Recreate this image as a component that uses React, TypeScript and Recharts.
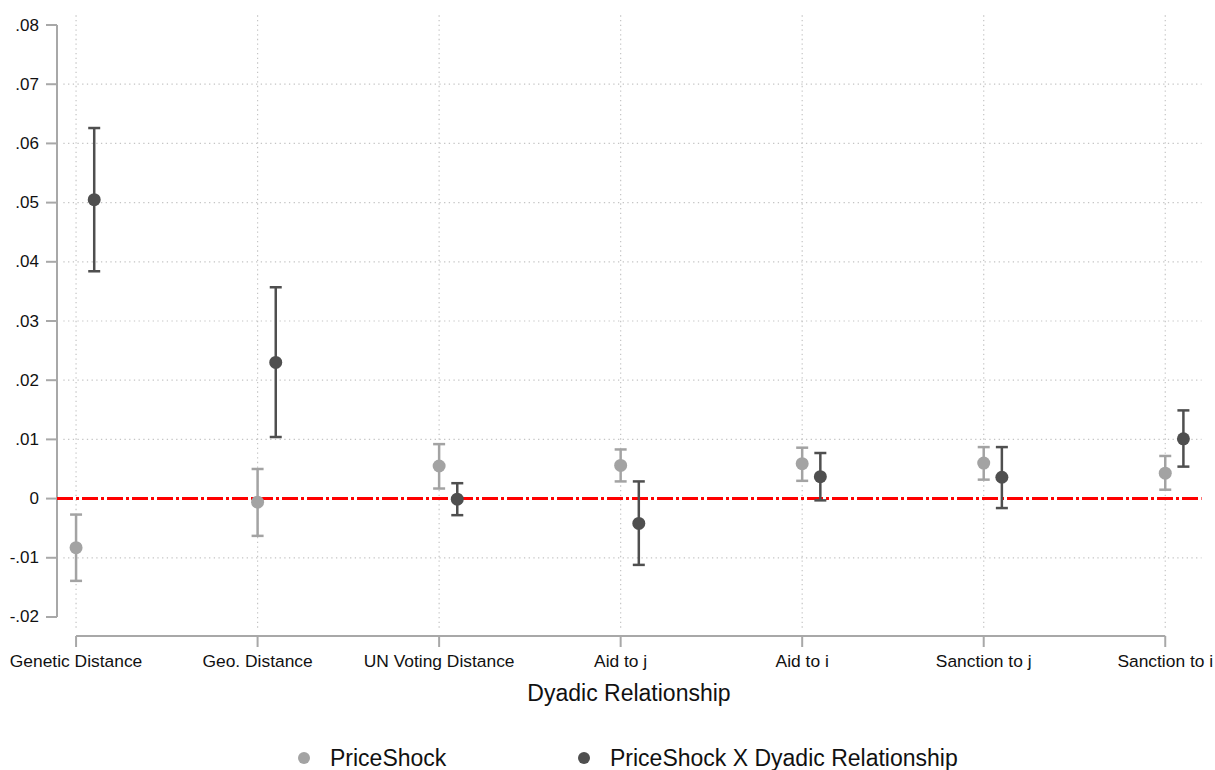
import React from "react";
import {
  ErrorBar,
  ReferenceLine,
  Scatter,
  ScatterChart,
  XAxis,
  YAxis,
} from "recharts";

const categories = [
  "Genetic Distance",
  "Geo. Distance",
  "UN Voting Distance",
  "Aid to j",
  "Aid to i",
  "Sanction to j",
  "Sanction to i",
];

// PriceShock
const shockCoef = [-0.0083, -0.0006, 0.0055, 0.0056, 0.0059, 0.006, 0.0043];
const shockLow = [-0.0139, -0.0063, 0.0017, 0.0029, 0.003, 0.0032, 0.0015];
const shockHigh = [-0.0027, 0.005, 0.0092, 0.0083, 0.0086, 0.0087, 0.0072];

// PriceShock X Dyadic Relationship
const interCoef = [0.0505, 0.023, -0.0001, -0.0042, 0.0037, 0.0036, 0.0101];
const interLow = [0.0384, 0.0104, -0.0028, -0.0112, -0.0003, -0.0016, 0.0054];
const interHigh = [0.0626, 0.0357, 0.0026, 0.0029, 0.0077, 0.0087, 0.0149];

const yTicks = [-0.02, -0.01, 0, 0.01, 0.02, 0.03, 0.04, 0.05, 0.06, 0.07, 0.08];
const gridTicks = [-0.01, 0.01, 0.02, 0.03, 0.04, 0.05, 0.06, 0.07];

const LIGHT = "#a3a3a3";
const DARK = "#4f4f4f";
const AXIS = "#a8a8a8";
const GRID = "#c4c4c4";
const FONT = "'Liberation Sans', Arial, Helvetica, sans-serif";

const DODGE = 0.1;
const X_DOMAIN: [number, number] = [-0.105, 6.23];
const Y_DOMAIN: [number, number] = [-0.0222, 0.0822];

const build = (coef: number[], low: number[], high: number[], shift: number) =>
  coef.map((c, i) => ({
    x: i + shift,
    y: c,
    err: [c - low[i], high[i] - c],
  }));

const shockData = build(shockCoef, shockLow, shockHigh, 0);
const interData = build(interCoef, interLow, interHigh, DODGE);

const fmtY = (v: number) => {
  if (v === 0) return "0";
  const s = v.toFixed(2);
  return s.replace("0.", ".");
};

const YTick = (props: any) => {
  const { x, y, payload } = props;
  return (
    <g>
      <line x1={x - 11} x2={x} y1={y} y2={y} stroke={AXIS} strokeWidth={2} />
      <text
        x={x - 18}
        y={y}
        textAnchor="end"
        dominantBaseline="central"
        fontSize={17}
        fontFamily={FONT}
        fill="#111"
      >
        {fmtY(payload.value)}
      </text>
    </g>
  );
};

const XTick = (props: any) => {
  const { x, y, payload } = props;
  return (
    <g>
      <line x1={x} x2={x} y1={y + 6} y2={y + 17} stroke={AXIS} strokeWidth={2} />
      <text
        x={x}
        y={y + 37}
        textAnchor="middle"
        fontSize={17.4}
        fontFamily={FONT}
        fill="#111"
      >
        {categories[payload.value]}
      </text>
    </g>
  );
};

const dot = (color: string, r: number) => (p: any) =>
  <circle cx={p.cx} cy={p.cy} r={r} fill={color} />;

export default function App() {
  return (
    <div
      style={{
        position: "absolute",
        left: 0,
        top: 0,
        width: 1215,
        height: 770,
        background: "#fff",
        overflow: "hidden",
        fontFamily: FONT,
      }}
    >
      <ScatterChart
        width={1215}
        height={770}
        margin={{ top: 12, right: 8, left: 0, bottom: 90 }}
      >
        <XAxis
          type="number"
          dataKey="x"
          domain={X_DOMAIN}
          ticks={[0, 1, 2, 3, 4, 5, 6]}
          allowDataOverflow
          axisLine={false}
          tickLine={false}
          tickSize={0}
          tickMargin={0}
          height={50}
          tick={<XTick />}
          interval={0}
          label={{
            value: "Dyadic Relationship",
            position: "bottom",
            offset: 5,
            fontSize: 23,
            fontFamily: FONT,
            fill: "#111",
            dx: -3,
          }}
        />
        <YAxis
          type="number"
          dataKey="y"
          domain={Y_DOMAIN}
          ticks={yTicks}
          allowDataOverflow
          axisLine={false}
          tickLine={false}
          tickSize={0}
          tickMargin={0}
          width={57}
          tick={<YTick />}
          interval={0}
        />

        {gridTicks.map((t) => (
          <ReferenceLine
            key={`h${t}`}
            segment={[
              { x: -0.07, y: t },
              { x: 6.2, y: t },
            ]}
            stroke={GRID}
            strokeWidth={1.2}
            strokeDasharray="1.3 3.4"
          />
        ))}
        {categories.map((_, i) => (
          <ReferenceLine
            key={`v${i}`}
            segment={[
              { x: i, y: -0.0218 },
              { x: i, y: 0.0818 },
            ]}
            stroke={GRID}
            strokeWidth={1.2}
            strokeDasharray="1.3 3.4"
          />
        ))}

        {/* axis lines, Stata style offset from plot region */}
        <ReferenceLine
          segment={[
            { x: -0.105, y: -0.02 },
            { x: -0.105, y: 0.08 },
          ]}
          stroke={AXIS}
          strokeWidth={2}
          ifOverflow="visible"
        />
        <ReferenceLine
          segment={[
            { x: 0, y: -0.0232 },
            { x: 6, y: -0.0232 },
          ]}
          stroke={AXIS}
          strokeWidth={2}
          ifOverflow="visible"
        />

        <ReferenceLine
          segment={[
            { x: -0.105, y: 0 },
            { x: 6.2, y: 0 },
          ]}
          stroke="#ff0000"
          strokeWidth={3}
          strokeDasharray="16 3 3 3"
        />

        <Scatter
          name="PriceShock"
          data={shockData}
          fill={LIGHT}
          shape={dot(LIGHT, 6.5)}
          isAnimationActive={false}
        >
          <ErrorBar
            dataKey="err"
            direction="y"
            width={6}
            stroke={LIGHT}
            strokeWidth={2.5}
            isAnimationActive={false}
          />
        </Scatter>
        <Scatter
          name="PriceShock X Dyadic Relationship"
          data={interData}
          fill={DARK}
          shape={dot(DARK, 6.5)}
          isAnimationActive={false}
        >
          <ErrorBar
            dataKey="err"
            direction="y"
            width={6}
            stroke={DARK}
            strokeWidth={2.5}
            isAnimationActive={false}
          />
        </Scatter>
      </ScatterChart>

      <div
        style={{
          position: "absolute",
          top: 745,
          left: 0,
          width: 1215,
          height: 26,
          fontSize: 23,
          color: "#111",
          whiteSpace: "nowrap",
        }}
      >
        {[
          { label: "PriceShock", color: LIGHT, x: 298 },
          { label: "PriceShock X Dyadic Relationship", color: DARK, x: 578 },
        ].map((item) => (
          <div
            key={item.label}
            style={{
              position: "absolute",
              left: item.x,
              top: 0,
              display: "flex",
              alignItems: "center",
              height: 26,
            }}
          >
            <span
              style={{
                display: "inline-block",
                width: 12,
                height: 12,
                borderRadius: 6,
                background: item.color,
                marginRight: 20,
              }}
            />
            <span style={{ lineHeight: "26px" }}>{item.label}</span>
          </div>
        ))}
      </div>
    </div>
  );
}
